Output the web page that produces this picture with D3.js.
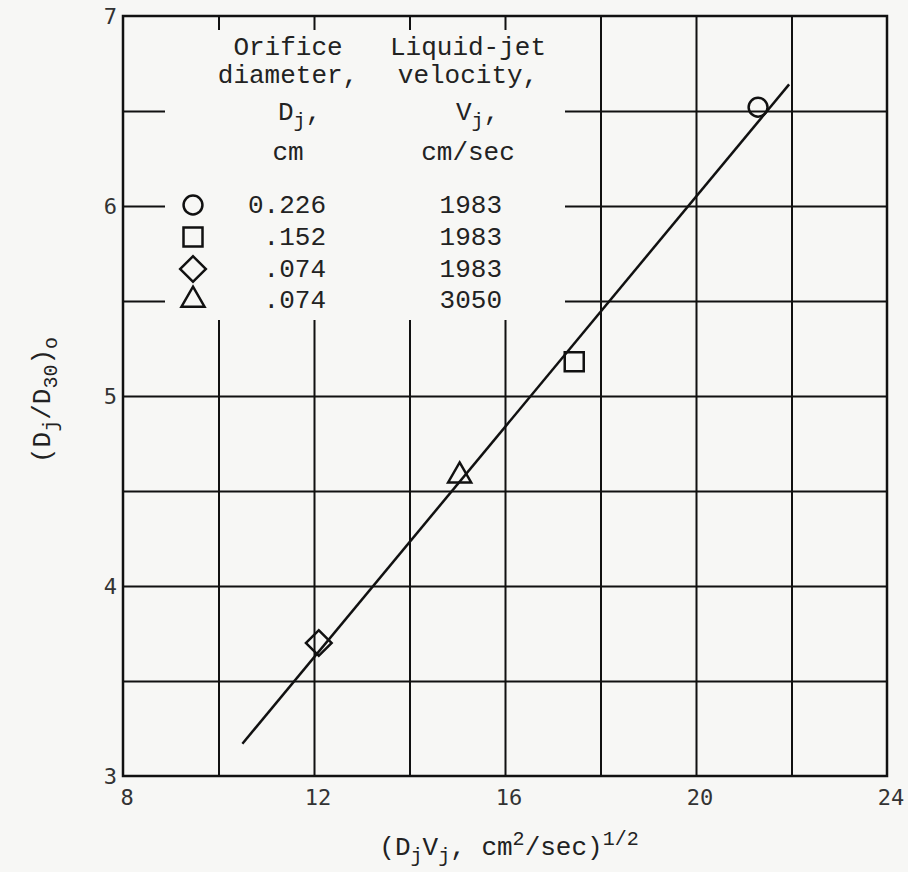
<!DOCTYPE html>
<html>
<head>
<meta charset="utf-8">
<script src="https://cdn.jsdelivr.net/npm/d3@7"></script>
<style>
  body { margin: 0; background: #f7f7f5; }
  svg { display: block; }
  .grid line { stroke: #111; stroke-width: 2; }
  .grid path { display: none; }
  .tick-label { font-family: "DejaVu Sans Mono", monospace; font-size: 22px; fill: #333; }
  .leg { font-family: "Liberation Mono", "Courier New", monospace; font-size: 26px; fill: #222; }
</style>
</head>
<body>
<div id="chart_container"></div>
<script>
// values
var diameters = ["0.226", ".152", ".074", ".074"];
var velocities = ["1983", "1983", "1983", "3050"];
var shapes = ["circle", "square", "diamond", "triangle"];
var pointX = [21.3, 17.45, 12.1, 15.05];
var pointY = [6.52, 5.18, 3.70, 4.58];
var fitX = [10.5, 21.95];
var fitY = [3.17, 6.64];
var xTicks = [8, 12, 16, 20, 24];
var yTicks = [3, 4, 5, 6, 7];
var xGrid = [10, 12, 14, 16, 18, 20, 22];
var yGrid = [3.5, 4, 4.5, 5, 5.5, 6, 6.5];

// set the dimensions and margins of the graph
var margin = { top: 16, right: 21, bottom: 96, left: 123 },
    width = 908 - margin.left - margin.right,
    height = 872 - margin.top - margin.bottom;

var x = d3.scaleLinear().domain([8, 24]).range([0, width]);
var y = d3.scaleLinear().domain([3, 7]).range([height, 0]);

var svg = d3.select("#chart_container").append("svg")
    .attr("width", 908)
    .attr("height", 872)
    .append("g")
    .attr("transform", "translate(" + margin.left + "," + margin.top + ")");

// gridlines
svg.append("g")
    .attr("class", "grid")
    .attr("transform", "translate(0," + height + ")")
    .call(d3.axisBottom(x).tickValues(xGrid).tickSize(-height).tickFormat(""));
svg.append("g")
    .attr("class", "grid")
    .call(d3.axisLeft(y).tickValues(yGrid).tickSize(-width).tickFormat(""));

// clear space behind the legend, leaving short ticks on the top edge
svg.append("rect")
    .attr("x", 42).attr("y", 14)
    .attr("width", 400).attr("height", 290)
    .attr("fill", "#f7f7f5");

// frame
svg.append("rect")
    .attr("width", width).attr("height", height)
    .attr("fill", "none").attr("stroke", "#111").attr("stroke-width", 2.5);

// tick labels
svg.selectAll(".xl").data(xTicks).enter().append("text")
    .attr("class", "tick-label")
    .attr("x", function(d) { return x(d) + 4; })
    .attr("y", height + 29)
    .attr("text-anchor", "middle")
    .text(function(d) { return d; });
svg.selectAll(".yl").data(yTicks).enter().append("text")
    .attr("class", "tick-label")
    .attr("x", -6)
    .attr("y", function(d) { return y(d) + 8; })
    .attr("text-anchor", "end")
    .text(function(d) { return d; });

// fitted line
var valueline = d3.line()
    .x(function(d) { return x(d[0]); })
    .y(function(d) { return y(d[1]); });
svg.append("path")
    .datum(d3.zip(fitX, fitY))
    .attr("d", valueline)
    .attr("fill", "none").attr("stroke", "#111").attr("stroke-width", 2.5);

function symbolPath(shape) {
    if (shape === "circle") return d3.symbol(d3.symbolCircle, 280)();
    if (shape === "square") return d3.symbol(d3.symbolSquare, 361)();
    if (shape === "diamond") return d3.symbol(d3.symbolSquare, 330)();
    return d3.symbol(d3.symbolTriangle, 230)();
}
function symbolTransform(shape, px, py) {
    return "translate(" + px + "," + py + ")" + (shape === "diamond" ? " rotate(45)" : "");
}

// data points
svg.selectAll(".pt").data(shapes).enter().append("path")
    .attr("d", function(d) { return symbolPath(d); })
    .attr("transform", function(d, i) { return symbolTransform(d, x(pointX[i]), y(pointY[i])); })
    .attr("fill", "none").attr("stroke", "#111").attr("stroke-width", 2.5);

// legend
var leg = svg.append("g");
var head1 = ["Orifice", "diameter,", null, "cm"];
var head2 = ["Liquid-jet", "velocity,", null, "cm/sec"];
var headY = [39, 67, 104, 144];
head1.forEach(function(t, i) {
    if (t) leg.append("text").attr("class", "leg").attr("x", 165).attr("y", headY[i])
        .attr("text-anchor", "middle").text(t);
});
head2.forEach(function(t, i) {
    if (t) leg.append("text").attr("class", "leg").attr("x", 345).attr("y", headY[i])
        .attr("text-anchor", "middle").text(t);
});
var dj = leg.append("text").attr("class", "leg").attr("x", 155).attr("y", headY[2]);
dj.append("tspan").text("D");
dj.append("tspan").attr("dy", 7).attr("font-size", 20).text("j");
dj.append("tspan").attr("dy", -7).text(",");
var vj = leg.append("text").attr("class", "leg").attr("x", 333).attr("y", headY[2]);
vj.append("tspan").text("V");
vj.append("tspan").attr("dy", 7).attr("font-size", 20).text("j");
vj.append("tspan").attr("dy", -7).text(",");

var rowY = [197, 229, 261, 292];
leg.selectAll(".ls").data(shapes).enter().append("path")
    .attr("d", function(d) { return symbolPath(d); })
    .attr("transform", function(d, i) { return symbolTransform(d, 70, rowY[i] - 8); })
    .attr("fill", "none").attr("stroke", "#111").attr("stroke-width", 2.5);
leg.selectAll(".ld").data(diameters).enter().append("text")
    .attr("class", "leg").attr("x", 203).attr("y", function(d, i) { return rowY[i]; })
    .attr("text-anchor", "end").text(function(d) { return d; });
leg.selectAll(".lv").data(velocities).enter().append("text")
    .attr("class", "leg").attr("x", 379).attr("y", function(d, i) { return rowY[i]; })
    .attr("text-anchor", "end").text(function(d) { return d; });

// x axis title
var xt = svg.append("text").attr("class", "leg")
    .attr("x", x(16) + 4).attr("y", height + 79).attr("text-anchor", "middle");
xt.append("tspan").text("(D");
xt.append("tspan").attr("dy", 7).attr("font-size", 20).text("j");
xt.append("tspan").attr("dy", -7).text("V");
xt.append("tspan").attr("dy", 7).attr("font-size", 20).text("j");
xt.append("tspan").attr("dy", -7).text(", cm");
xt.append("tspan").attr("dy", -10).attr("font-size", 20).text("2");
xt.append("tspan").attr("dy", 10).text("/sec)");
xt.append("tspan").attr("dy", -10).attr("font-size", 20).text("1/2");

// y axis title
var yt = svg.append("text").attr("class", "leg")
    .attr("transform", "translate(-73," + (y(5) + 4) + ") rotate(-90)")
    .attr("text-anchor", "middle");
yt.append("tspan").text("(D");
yt.append("tspan").attr("dy", 7).attr("font-size", 20).text("j");
yt.append("tspan").attr("dy", -7).text("/D");
yt.append("tspan").attr("dy", 7).attr("font-size", 20).text("30");
yt.append("tspan").attr("dy", -7).text(")");
yt.append("tspan").attr("dy", 7).attr("font-size", 20).text("o");
</script>
</body>
</html>
